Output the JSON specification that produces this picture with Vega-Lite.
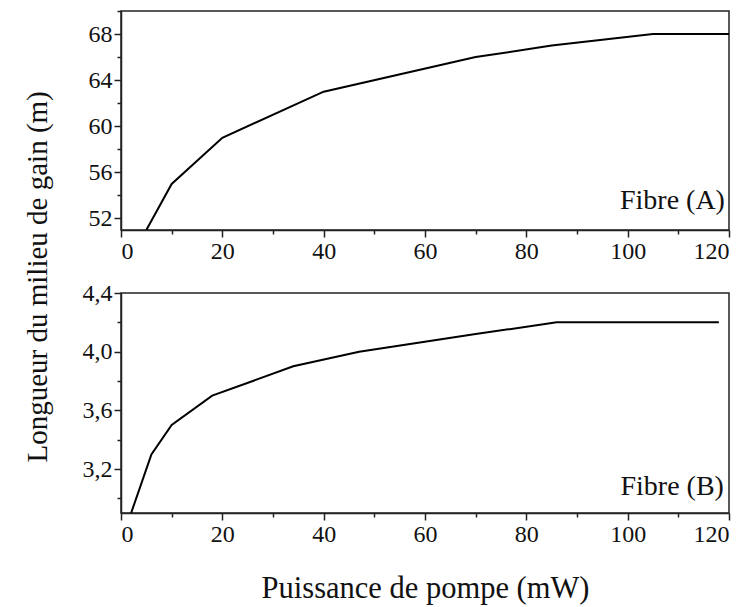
{
  "$schema": "https://vega.github.io/schema/vega-lite/v6.json",
  "background": "white",
  "padding": {"left": 24, "top": 9, "right": 12, "bottom": 5},
  "spacing": 16,
  "title": {
    "text": "Longueur du milieu de gain (m)",
    "orient": "left",
    "anchor": "middle",
    "font": "Liberation Serif",
    "fontSize": 29,
    "fontWeight": "normal",
    "color": "#111",
    "offset": 28,
    "dx": 30
  },
  "config": {
    "locale": {"number": {"decimal": ",", "thousands": " ", "grouping": [3], "currency": ["", " €"]}},
    "view": {"stroke": "#222", "strokeWidth": 1.5},
    "font": "Liberation Serif",
    "axis": {
      "grid": false,
      "domainColor": "#222",
      "domainWidth": 1.5,
      "tickColor": "#222",
      "tickWidth": 1.5,
      "tickCount": 30,
      "labelColor": "#111",
      "labelFont": "Liberation Serif",
      "labelFontSize": 24,
      "titleFont": "Liberation Serif",
      "titleFontSize": 30.5,
      "titleFontWeight": "normal",
      "titleColor": "#111"
    }
  },
  "datasets": {
    "fibreA": [
      {"puissance": 5, "longueur": 51},
      {"puissance": 10, "longueur": 55},
      {"puissance": 20, "longueur": 59},
      {"puissance": 40, "longueur": 63},
      {"puissance": 70, "longueur": 66},
      {"puissance": 85, "longueur": 67},
      {"puissance": 105, "longueur": 68},
      {"puissance": 120, "longueur": 68}
    ],
    "fibreB": [
      {"puissance": 2, "longueur": 2.9},
      {"puissance": 6, "longueur": 3.3},
      {"puissance": 10, "longueur": 3.5},
      {"puissance": 18, "longueur": 3.7},
      {"puissance": 34, "longueur": 3.9},
      {"puissance": 47, "longueur": 4.0},
      {"puissance": 70, "longueur": 4.12},
      {"puissance": 86, "longueur": 4.2},
      {"puissance": 118, "longueur": 4.2}
    ]
  },
  "vconcat": [
    {
      "width": 608,
      "height": 219,
      "layer": [
        {
          "data": {"name": "fibreA"},
          "mark": {"type": "line", "color": "black", "strokeWidth": 2, "clip": true},
          "encoding": {
            "x": {
              "field": "puissance", "type": "quantitative",
              "scale": {"domain": [0, 120], "nice": false},
              "axis": {
                "title": null,
                "format": "d",
                "tickCount": 30,
                "values": [0, 10, 20, 30, 40, 50, 60, 70, 80, 90, 100, 110, 120],
                "labelExpr": "datum.value % 20 == 0 ? datum.label : ''",
                "tickSize": {"condition": {"test": "datum.value % 20 == 0", "value": 7}, "value": 4},
                "labelPadding": 2
              }
            },
            "y": {
              "field": "longueur", "type": "quantitative",
              "scale": {"domain": [51, 70], "nice": false, "zero": false},
              "axis": {
                "title": null,
                "format": "d",
                "tickCount": 30,
                "values": [52, 54, 56, 58, 60, 62, 64, 66, 68, 70],
                "labelExpr": "(datum.value - 52) % 4 == 0 ? datum.label : ''",
                "tickSize": {"condition": {"test": "(datum.value - 52) % 4 == 0", "value": 7}, "value": 4},
                "labelPadding": 2
              }
            }
          }
        },
        {
          "data": {"values": [{}]},
          "mark": {"type": "text", "align": "right", "baseline": "middle", "fontSize": 28, "font": "Liberation Serif", "color": "#111"},
          "encoding": {
            "x": {"datum": 119.2},
            "y": {"datum": 53.5},
            "text": {"value": "Fibre (A)"}
          }
        }
      ]
    },
    {
      "width": 608,
      "height": 220,
      "layer": [
        {
          "data": {"name": "fibreB"},
          "mark": {"type": "line", "color": "black", "strokeWidth": 2, "clip": true},
          "encoding": {
            "x": {
              "field": "puissance", "type": "quantitative",
              "scale": {"domain": [0, 120], "nice": false},
              "axis": {
                "title": "Puissance de pompe (mW)",
                "titlePadding": 27,
                "format": "d",
                "tickCount": 30,
                "values": [0, 10, 20, 30, 40, 50, 60, 70, 80, 90, 100, 110, 120],
                "labelExpr": "datum.value % 20 == 0 ? datum.label : ''",
                "tickSize": {"condition": {"test": "datum.value % 20 == 0", "value": 7}, "value": 4},
                "labelPadding": 2
              }
            },
            "y": {
              "field": "longueur", "type": "quantitative",
              "scale": {"domain": [2.9, 4.4], "nice": false, "zero": false},
              "axis": {
                "title": null,
                "format": ".1f",
                "tickCount": 30,
                "values": [3.0, 3.2, 3.4, 3.6, 3.8, 4.0, 4.2, 4.4],
                "labelExpr": "(datum.value * 10 + 0.5) % 4 < 1 ? datum.label : ''",
                "tickSize": {"condition": {"test": "(datum.value * 10 + 0.5) % 4 < 1", "value": 7}, "value": 4},
                "labelPadding": 2
              }
            }
          }
        },
        {
          "data": {"values": [{}]},
          "mark": {"type": "text", "align": "right", "baseline": "middle", "fontSize": 28, "font": "Liberation Serif", "color": "#111"},
          "encoding": {
            "x": {"datum": 119.0},
            "y": {"datum": 3.08},
            "text": {"value": "Fibre (B)"}
          }
        }
      ]
    }
  ]
}
